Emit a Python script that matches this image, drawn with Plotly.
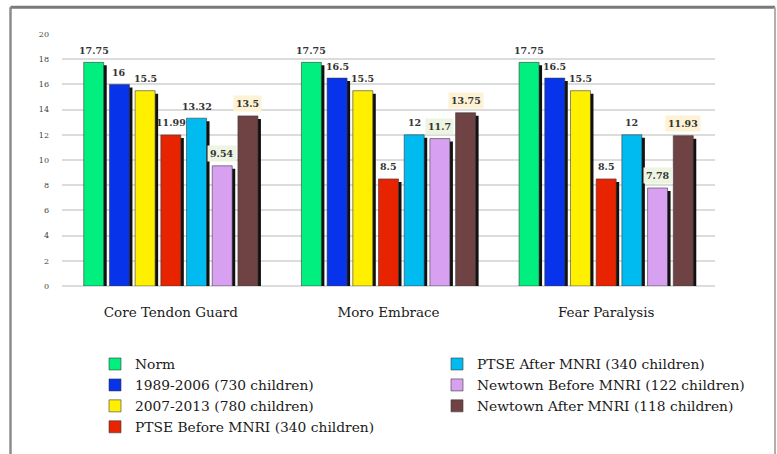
import plotly.graph_objects as go

# Reflex categories and series values
categories = ["Core Tendon Guard", "Moro Embrace", "Fear Paralysis"]
series_names = [
    "Norm",
    "1989-2006 (730 children)",
    "2007-2013 (780 children)",
    "PTSE Before MNRI (340 children)",
    "PTSE After MNRI (340 children)",
    "Newtown Before MNRI (122 children)",
    "Newtown After MNRI (118 children)",
]
norm = [17.75, 17.75, 17.75]
y1989_2006 = [16, 16.5, 16.5]
y2007_2013 = [15.5, 15.5, 15.5]
ptse_before = [11.99, 8.5, 8.5]
ptse_after = [13.32, 12, 12]
newtown_before = [9.54, 11.7, 7.78]
newtown_after = [13.5, 13.75, 11.93]
y_ticks = [0, 2, 4, 6, 8, 10, 12, 14, 16, 18, 20]

series_values = [norm, y1989_2006, y2007_2013, ptse_before,
                 ptse_after, newtown_before, newtown_after]
colors = ["#00ef7f", "#0733ea", "#fff000", "#e82400",
          "#00bbef", "#d7a0f0", "#6f4244"]
label_bg = [None, None, None, None, None, "#eef4e2", "#fdf2d4"]

SERIF = "DejaVu Serif, serif"

# plot-area geometry (px) used to express bar widths in category units
L, R, T, B = 62, 62, 34, 166
W = 777 - L - R
H = 454 - T - B
cat_px = W / len(categories)
bar_w = 20 / cat_px
pitch = 25.7 / cat_px
shadow_dx = 3 / cat_px
shadow_dy = 3 * 20 / H

fig = go.Figure()

# drop shadows behind each bar
for j, vals in enumerate(series_values):
    off = (j - 3) * pitch - bar_w / 2
    fig.add_trace(go.Bar(
        x=categories, y=vals, base=-shadow_dy, width=bar_w,
        offset=off + shadow_dx, marker=dict(color="#111111", line_width=0),
        showlegend=False, hoverinfo="skip",
    ))

for j, (name, vals) in enumerate(zip(series_names, series_values)):
    off = (j - 3) * pitch - bar_w / 2
    fig.add_trace(go.Bar(
        x=categories, y=vals, name=name, width=bar_w, offset=off,
        marker=dict(color=colors[j], line=dict(color="#3a3a3a", width=0.6)),
        legend="legend" if j < 4 else "legend2",
    ))
    for i, v in enumerate(vals):
        fig.add_annotation(
            x=i + off + bar_w / 2, y=v, xref="x", yref="y",
            text=f"<b>{v:g}</b>", showarrow=False, yanchor="middle", yshift=12,
            font=dict(family="DejaVu Serif", size=9.5, color="#333333"),
            bgcolor=label_bg[j] if label_bg[j] else "rgba(0,0,0,0)",
            borderpad=2,
        )

# outer frame lines
def px_to_paper(px, py):
    return (px - L) / W, (454 - B - py) / H

x0, ytop = px_to_paper(10.5, 7)
x1, ybot = px_to_paper(775, 460)
frame = dict(type="line", xref="paper", yref="paper", line=dict(color="#8c8c8c", width=2.5))
fig.add_shape(x0=x0, x1=x0, y0=ybot, y1=ytop, **frame)
fig.add_shape(x0=x0, x1=x1, y0=ytop, y1=ytop, **{**frame, "line": dict(color="#7a7a7a", width=3)})
fig.add_shape(x0=x1, x1=x1, y0=ybot, y1=ytop, **{**frame, "line": dict(color="#b0b0b0", width=2)})

legend_font = dict(family=SERIF, size=13.8, color="#1a1a1a")
lx, ly = px_to_paper(95, 351)
l2x, l2y = px_to_paper(437, 351)

fig.update_layout(
    width=777, height=454,
    margin=dict(l=L, r=R, t=T, b=B),
    barmode="overlay",
    plot_bgcolor="white", paper_bgcolor="white",
    xaxis=dict(
        type="category", showgrid=False, ticks="", showline=False,
        tickfont=dict(family=SERIF, size=13.5, color="#1a1a1a"),
        ticklabelstandoff=16,
    ),
    yaxis=dict(
        range=[0, 20], tickvals=y_ticks, showgrid=True,
        gridcolor="#dcdcdc", gridwidth=1.5, zeroline=True,
        zerolinecolor="#dcdcdc", zerolinewidth=1.5, showline=False,
        tickfont=dict(family="DejaVu Serif", size=8, color="#444444"),
        ticklabelstandoff=12,
    ),
    legend=dict(x=lx, y=ly, xanchor="left", yanchor="top", font=legend_font,
                tracegroupgap=0, itemwidth=30, bgcolor="rgba(0,0,0,0)"),
    legend2=dict(x=l2x, y=l2y, xanchor="left", yanchor="top", font=legend_font,
                 tracegroupgap=0, itemwidth=30, bgcolor="rgba(0,0,0,0)"),
    showlegend=True,
)

fig.write_html("out.html")
